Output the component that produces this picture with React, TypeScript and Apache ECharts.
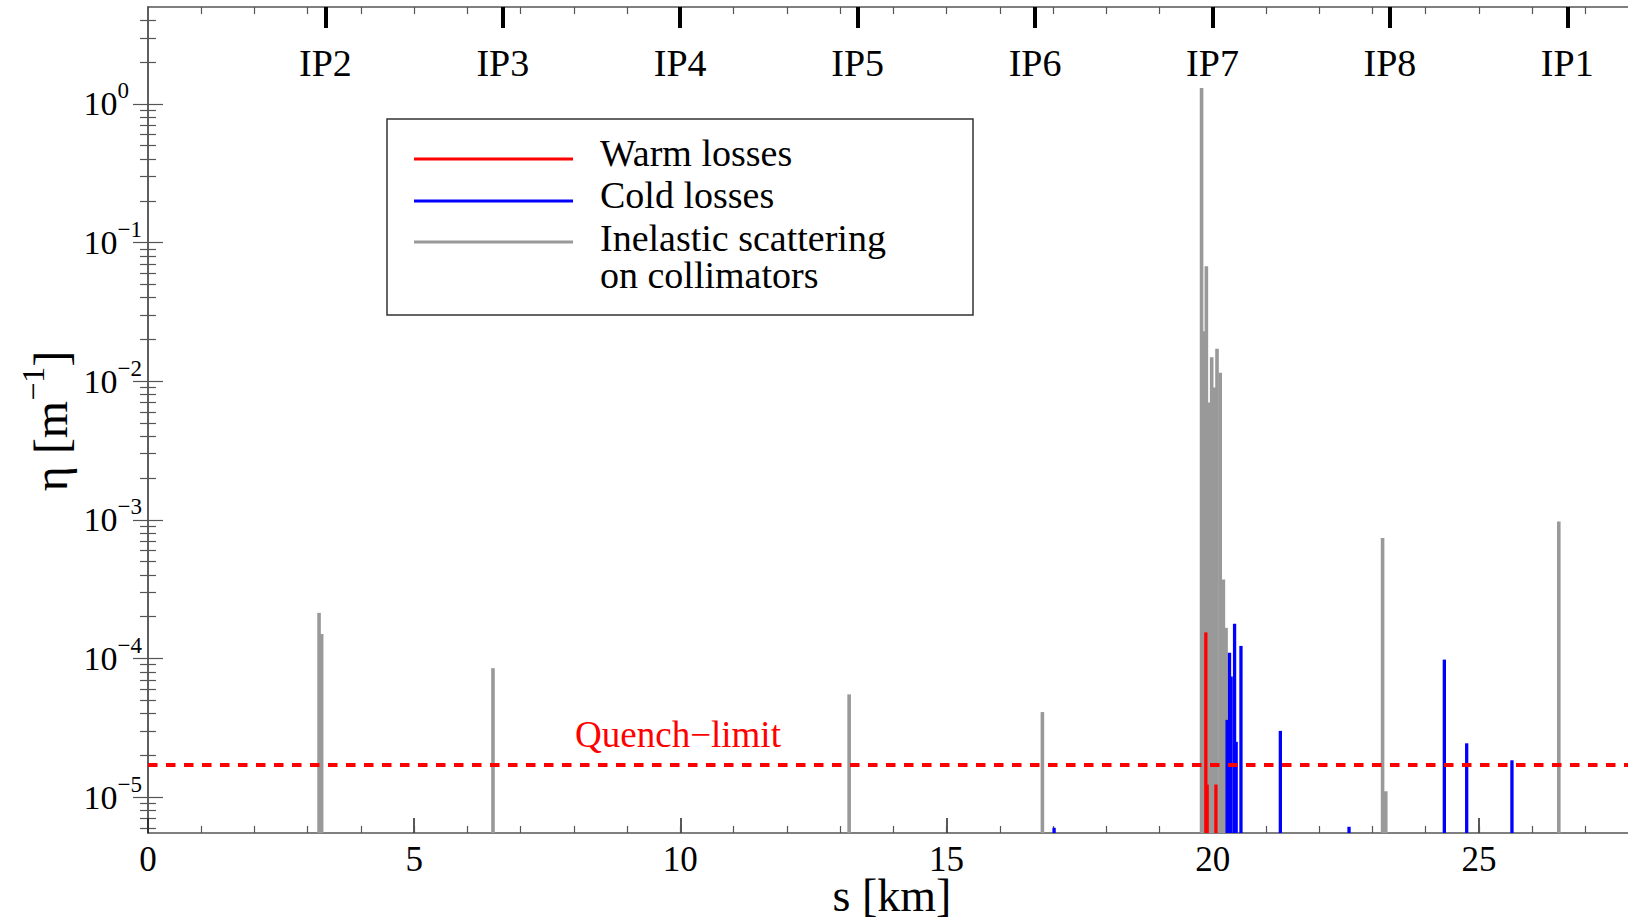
import React, { useEffect, useRef } from "react";
import * as echarts from "echarts";

// ---- axis ranges ----
const sMin = 0;
const sMax = 27.8;
const etaMin = 5.5e-6;
const etaMax = 5;

// ---- data (s in km, eta in 1/m) ----
const grayS = [3.213, 3.262, 6.48, 13.17, 16.8, 19.79, 19.84, 19.88, 19.94, 19.98, 20.03, 20.08, 20.14, 20.2, 20.25, 23.19, 23.25, 26.5];
const grayEta = [2.13e-4, 1.5e-4, 8.5e-5, 5.5e-5, 4.1e-5, 1.3, 0.0229, 0.0673, 0.007, 0.0149, 0.009, 0.0171, 0.0115, 3.7e-4, 1.66e-4, 7.4e-4, 1.1e-5, 9.7e-4];

const redS = [19.87, 19.895, 20.06];
const redEta = [1.54e-4, 1.23e-5, 1.23e-5];

const blueS = [17.02, 20.27, 20.315, 20.345, 20.41, 20.44, 20.53, 21.27, 22.56, 24.35, 24.77, 25.62];
const blueEta = [6.0e-6, 3.6e-5, 1.1e-4, 7.4e-5, 1.78e-4, 2.5e-5, 1.23e-4, 3.0e-5, 6.1e-6, 9.8e-5, 2.44e-5, 1.84e-5];

const quenchLimit = 1.7e-5;

// ---- tick labels ----
const ipNames = ["IP2", "IP3", "IP4", "IP5", "IP6", "IP7", "IP8", "IP1"];
const ipS = [3.332, 6.665, 9.997, 13.33, 16.662, 19.995, 23.327, 26.659];
const xMajorTicks = [0, 5, 10, 15, 20, 25];
const kmTicks = [1, 2, 3, 4, 5, 6, 7, 8, 9, 10, 11, 12, 13, 14, 15, 16, 17, 18, 19, 20, 21, 22, 23, 24, 25, 26, 27];
const yDecades = [1e-5, 1e-4, 1e-3, 1e-2, 1e-1, 1];

const FONT = "Liberation Serif";
const AXIS_COLOR = "#555";

const yMinor: number[] = [];
for (let k = -6; k <= 0; k++) {
  for (let m = 2; m <= 9; m++) {
    const v = m * Math.pow(10, k);
    if (v > etaMin && v < etaMax) yMinor.push(v);
  }
}

function spikeSeries(name: string, s: number[], eta: number[], color: string, width: number) {
  return {
    type: "custom",
    name,
    xAxisIndex: 0,
    yAxisIndex: 0,
    clip: true,
    encode: { x: 0, y: 1 },
    data: s.map((v, i) => [v, eta[i]]),
    renderItem: (params: any, api: any) => {
      const x = api.value(0);
      const top = api.coord([x, api.value(1)]);
      const base = api.coord([x, etaMin]);
      return {
        type: "rect",
        shape: { x: top[0] - width / 2, y: top[1], width, height: base[1] - top[1] },
        style: { fill: color },
      };
    },
  };
}

function supLabel(v: number) {
  const e = Math.round(Math.log10(v));
  if (e === 0) return "{b|10}{z|0}";
  const es = e < 0 ? "\u2212" + Math.abs(e) : String(e);
  return "{b|10}{s|" + es + "}";
}

export default function App() {
  const ref = useRef<HTMLDivElement>(null);
  useEffect(() => {
    if (!ref.current) return;
    const chart = echarts.init(ref.current, null, { renderer: "svg" });
    const xBase = { type: "value", min: sMin, max: sMax, splitLine: { show: false } };
    const yBase = { type: "log", logBase: 10, min: etaMin, max: etaMax, splitLine: { show: false } };
    const option: any = {
      animation: false,
      backgroundColor: "#fff",
      grid: { left: 148, top: 7, right: 0, bottom: 86, containLabel: false },
      xAxis: [
        {
          ...xBase,
          position: "bottom",
          axisLine: { show: true, lineStyle: { color: AXIS_COLOR, width: 1.5 } },
          axisTick: { show: true, inside: true, length: 15, customValues: xMajorTicks, lineStyle: { color: "#222", width: 1.5 } },
          axisLabel: { show: true, customValues: xMajorTicks, margin: 11, fontSize: 35, lineHeight: 30, fontFamily: FONT, color: "#000" },
        },
        {
          ...xBase,
          position: "bottom",
          axisLine: { show: false },
          axisTick: { show: true, inside: true, length: 7, customValues: kmTicks, lineStyle: { color: AXIS_COLOR, width: 1.2 } },
          axisLabel: { show: false },
        },
        {
          ...xBase,
          position: "top",
          axisLine: { show: true, lineStyle: { color: AXIS_COLOR, width: 1.5 } },
          axisTick: { show: true, inside: true, length: 7, customValues: kmTicks, lineStyle: { color: AXIS_COLOR, width: 1.2 } },
          axisLabel: { show: false },
        },
        {
          ...xBase,
          position: "top",
          axisLine: { show: false },
          axisTick: { show: true, inside: true, length: 21, customValues: ipS, lineStyle: { color: "#000", width: 4 } },
          axisLabel: {
            show: true,
            inside: true,
            customValues: ipS,
            margin: 37,
            fontSize: 38,
            fontFamily: FONT,
            color: "#000",
            formatter: (v: number) => {
              let best = 0;
              for (let i = 1; i < ipS.length; i++) if (Math.abs(ipS[i] - v) < Math.abs(ipS[best] - v)) best = i;
              return ipNames[best];
            },
          },
        },
      ],
      yAxis: [
        {
          ...yBase,
          position: "left",
          axisLine: { show: true, lineStyle: { color: AXIS_COLOR, width: 1.5 } },
          axisTick: { show: true, inside: true, length: 15, customValues: yDecades, lineStyle: { color: AXIS_COLOR, width: 1.2 } },
          axisLabel: {
            show: true,
            customValues: yDecades,
            margin: 6,
            color: "#000",
            formatter: supLabel,
            rich: {
              b: { fontSize: 34, fontFamily: FONT, color: "#000" },
              s: { fontSize: 23, fontFamily: FONT, color: "#000", padding: [0, 0, 26, 0] },
              z: { fontSize: 23, fontFamily: FONT, color: "#000", padding: [0, 13, 26, 0] },
            },
          },
        },
        {
          ...yBase,
          position: "left",
          axisLine: { show: false },
          axisTick: { show: true, inside: true, length: 8, customValues: yMinor, lineStyle: { color: AXIS_COLOR, width: 1.2 } },
          axisLabel: { show: false },
        },
        {
          ...yBase,
          position: "right",
          axisLine: { show: true, lineStyle: { color: AXIS_COLOR, width: 1.5 } },
          axisTick: { show: true, inside: true, length: 15, customValues: yDecades, lineStyle: { color: AXIS_COLOR, width: 1.2 } },
          axisLabel: { show: false },
        },
        {
          ...yBase,
          position: "right",
          axisLine: { show: false },
          axisTick: { show: true, inside: true, length: 8, customValues: yMinor, lineStyle: { color: AXIS_COLOR, width: 1.2 } },
          axisLabel: { show: false },
        },
      ],
      series: [
        spikeSeries("Inelastic scattering on collimators", grayS, grayEta, "#999999", 3.6),
        spikeSeries("Warm losses", redS, redEta, "#ff0000", 3.3),
        spikeSeries("Cold losses", blueS, blueEta, "#0000ff", 3.3),
        {
          type: "line",
          name: "Quench-limit",
          xAxisIndex: 0,
          yAxisIndex: 0,
          showSymbol: false,
          symbol: "none",
          data: [
            [sMin, quenchLimit],
            [sMax, quenchLimit],
          ],
          lineStyle: { color: "#ff0000", width: 4, type: [9.5, 8.5] },
          z: 5,
        },
      ],
      graphic: [
        {
          type: "rect",
          shape: { x: 387, y: 119, width: 586, height: 196 },
          style: { fill: "#fff", stroke: "#333", lineWidth: 1.5 },
          z: 10,
        },
        { type: "line", shape: { x1: 414, y1: 159, x2: 573, y2: 159 }, style: { stroke: "#ff0000", lineWidth: 3 }, z: 11 },
        { type: "line", shape: { x1: 414, y1: 201, x2: 573, y2: 201 }, style: { stroke: "#0000ff", lineWidth: 3 }, z: 11 },
        { type: "line", shape: { x1: 414, y1: 242, x2: 573, y2: 242 }, style: { stroke: "#999999", lineWidth: 3 }, z: 11 },
        {
          type: "text",
          x: 600,
          y: 153,
          z: 11,
          style: { text: "Warm losses", fontSize: 38, fontFamily: FONT, fill: "#000", verticalAlign: "middle", align: "left" },
        },
        {
          type: "text",
          x: 600,
          y: 195,
          z: 11,
          style: { text: "Cold losses", fontSize: 38, fontFamily: FONT, fill: "#000", verticalAlign: "middle", align: "left" },
        },
        {
          type: "text",
          x: 600,
          y: 256.5,
          z: 11,
          style: {
            text: "Inelastic scattering\non collimators",
            fontSize: 38,
            lineHeight: 37,
            fontFamily: FONT,
            fill: "#000",
            verticalAlign: "middle",
            align: "left",
          },
        },
        {
          type: "text",
          x: 678,
          y: 734,
          z: 11,
          style: { text: "Quench\u2212limit", fontSize: 37, fontFamily: FONT, fill: "#ff0000", verticalAlign: "middle", align: "center" },
        },
        {
          type: "text",
          x: 892,
          y: 895,
          z: 11,
          style: { text: "s [km]", fontSize: 46, lineHeight: 38, fontFamily: FONT, fill: "#000", verticalAlign: "middle", align: "center" },
        },
        {
          type: "text",
          x: 50,
          y: 421,
          rotation: Math.PI / 2,
          z: 11,
          style: {
            text: "{a|\u03b7 [m}{s|\u22121}{a|]}",
            align: "center",
            verticalAlign: "middle",
            rich: {
              a: { fontSize: 48, fontFamily: FONT, fill: "#000" },
              s: { fontSize: 32, fontFamily: FONT, fill: "#000", padding: [0, 0, 34, 0] },
            },
          },
        },
      ],
    };
    chart.setOption(option);
    return () => chart.dispose();
  }, []);
  return (
    <div
      ref={ref}
      style={{ position: "fixed", left: 0, top: 0, width: 1628, height: 919, background: "#fff" }}
    />
  );
}
